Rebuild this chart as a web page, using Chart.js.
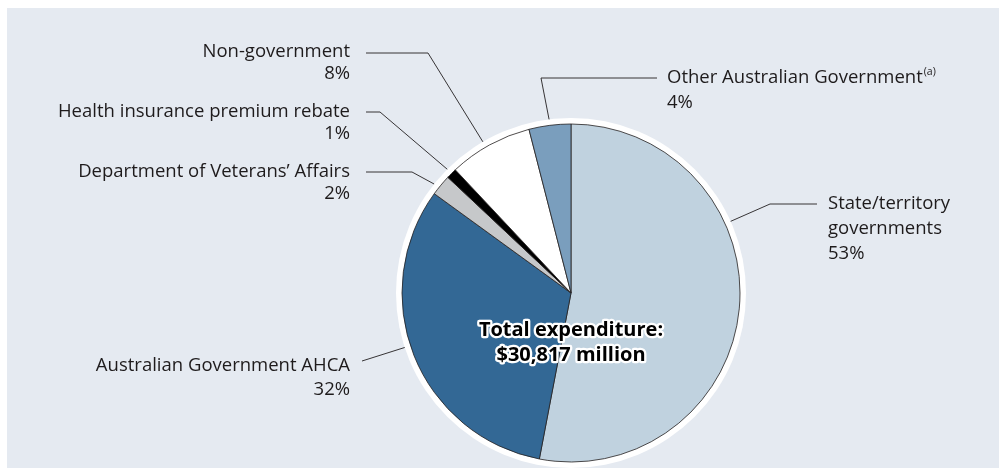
<!DOCTYPE html>
<html>
<head>
<meta charset="utf-8">
<script src="https://cdn.jsdelivr.net/npm/chart.js@4/dist/chart.umd.min.js"></script>
<style>
  html, body { margin: 0; padding: 0; background: #fff; }
  #wrap { position: relative; width: 999px; height: 468px; }
</style>
</head>
<body>
<div id="wrap"><canvas id="chart" width="999" height="468"></canvas></div>
<script>
// Expenditure by source of funds, share of total (%)
const sources = [
  'State/territory governments',
  'Australian Government AHCA',
  'Department of Veterans\u2019 Affairs',
  'Health insurance premium rebate',
  'Non-government',
  'Other Australian Government'
];
const shares = [53, 32, 2, 1, 8, 4];
const sliceColors = ['#c0d2df', '#336895', '#c6c8ca', '#000000', '#ffffff', '#7a9ebd'];
const totalLines = ['Total expenditure:', '$30,817 million'];

const FONT = '"Open Sans", "Noto Sans", sans-serif';
const LABEL_FONT = '18.5px ' + FONT;
const TEXT = '#1e1b1c';

// callout layout per slice: text lines, anchor position along arc, leader path, text block
const callouts = [
  { lines: ['State/territory', 'governments'], at: 0.345, from: [817, 204], elbow: [770, 204],
    x: 828, y: 204, step: 25, align: 'left' },
  { lines: ['Australian Government AHCA'], at: 0.53, from: [362, 361], elbow: [362, 361],
    x: 350, y: 366, step: 24, align: 'right' },
  { lines: ['Department of Veterans\u2019 Affairs'], at: 0.35, from: [366, 172], elbow: [412, 172],
    x: 350, y: 172, step: 21.5, align: 'right' },
  { lines: ['Health insurance premium rebate'], at: 0.5, from: [366, 112], elbow: [380, 112],
    x: 350, y: 112, step: 21.5, align: 'right' },
  { lines: ['Non-government'], at: 0.45, from: [366, 53], elbow: [428, 53],
    x: 350, y: 52, step: 21.5, align: 'right' },
  { lines: ['Other Australian Government'], sup: '(a)', at: 0.5, from: [657, 78], elbow: [541, 78],
    x: 667, y: 78, step: 25, align: 'left' }
];

const backdrop = {
  id: 'backdrop',
  beforeDraw(c) {
    const ctx = c.ctx;
    ctx.save();
    ctx.fillStyle = '#fff';
    ctx.fillRect(0, 0, c.width, c.height);
    ctx.fillStyle = '#e5eaf1';
    ctx.fillRect(7, 8, c.width - 7, c.height - 8);
    ctx.restore();
  },
  beforeDatasetsDraw(c) {
    // white ring round the pie
    const arc = c.getDatasetMeta(0).data[0];
    const ctx = c.ctx;
    ctx.save();
    ctx.fillStyle = '#fff';
    ctx.beginPath();
    ctx.arc(arc.x, arc.y, arc.outerRadius + 6, 0, Math.PI * 2);
    ctx.fill();
    ctx.restore();
  }
};

const labelsPlugin = {
  id: 'calloutLabels',
  afterDraw(c) {
    const ctx = c.ctx;
    const arcs = c.getDatasetMeta(0).data;
    ctx.save();
    ctx.strokeStyle = '#231f20';
    ctx.lineWidth = 0.9;
    ctx.fillStyle = TEXT;
    ctx.font = LABEL_FONT;
    ctx.textBaseline = 'middle';

    callouts.forEach((co, i) => {
      const a = arcs[i];
      const ang = a.startAngle + (a.endAngle - a.startAngle) * co.at;
      const r = a.outerRadius + 6;
      const ax = a.x + Math.cos(ang) * r;
      const ay = a.y + Math.sin(ang) * r;

      ctx.beginPath();
      ctx.moveTo(co.from[0], co.from[1]);
      ctx.lineTo(co.elbow[0], co.elbow[1]);
      ctx.lineTo(ax, ay);
      ctx.stroke();

      const lines = co.lines.concat([shares[i] + '%']);
      ctx.textAlign = co.align;
      lines.forEach((t, k) => {
        ctx.fillText(t, co.x, co.y + k * co.step);
      });
      if (co.sup) {
        const w = ctx.measureText(co.lines[0]).width;
        ctx.font = '10.5px ' + FONT;
        ctx.textAlign = 'left';
        ctx.fillText(co.sup, co.x + w + 1, co.y - 6);
        ctx.font = LABEL_FONT;
      }
    });

    // total in the middle, with white halo
    const a0 = arcs[0];
    ctx.font = 'bold 20px ' + FONT;
    ctx.textAlign = 'center';
    ctx.lineJoin = 'round';
    ctx.lineWidth = 4.5;
    ctx.strokeStyle = '#fff';
    ctx.fillStyle = '#000';
    totalLines.forEach((t, k) => {
      const y = a0.y + 37 + k * 25;
      ctx.strokeText(t, a0.x, y);
      ctx.fillText(t, a0.x, y);
    });
    ctx.restore();
  }
};

new Chart(document.getElementById('chart'), {
  type: 'pie',
  data: {
    labels: sources,
    datasets: [{
      data: shares,
      backgroundColor: sliceColors,
      borderColor: '#231f20',
      borderWidth: 0.8
    }]
  },
  options: {
    responsive: false,
    animation: false,
    radius: 169,
    layout: { padding: { left: 402, right: 259, top: 124, bottom: 6 } },
    plugins: {
      legend: { display: false },
      tooltip: { enabled: false }
    }
  },
  plugins: [backdrop, labelsPlugin]
});
</script>
</body>
</html>
